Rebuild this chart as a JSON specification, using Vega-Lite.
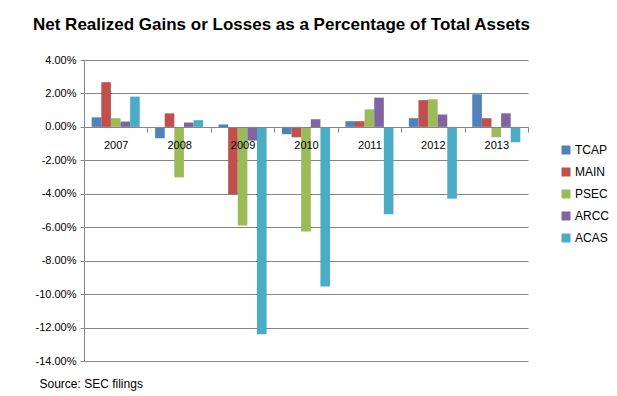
{
  "$schema": "https://vega.github.io/schema/vega-lite/v6.json",
  "width": 444,
  "height": 301,
  "autosize": {"type": "none"},
  "padding": {"left": 84, "top": 60, "right": 89, "bottom": 35},
  "background": "white",
  "title": {
    "text": "Net Realized Gains or Losses as a Percentage of Total Assets",
    "anchor": "start",
    "frame": "group",
    "dx": -51,
    "offset": 7,
    "baseline": "alphabetic",
    "font": "Liberation Sans",
    "fontSize": 17,
    "fontWeight": "bold",
    "color": "#000000"
  },
  "config": {
    "view": {"stroke": null},
    "font": "Liberation Sans"
  },
  "data": {
    "values": [
      {"year": "2007", "company": "TCAP", "value": 0.57},
      {"year": "2007", "company": "MAIN", "value": 2.67},
      {"year": "2007", "company": "PSEC", "value": 0.52},
      {"year": "2007", "company": "ARCC", "value": 0.32},
      {"year": "2007", "company": "ACAS", "value": 1.81},
      {"year": "2008", "company": "TCAP", "value": -0.68},
      {"year": "2008", "company": "MAIN", "value": 0.81},
      {"year": "2008", "company": "PSEC", "value": -3.02},
      {"year": "2008", "company": "ARCC", "value": 0.26},
      {"year": "2008", "company": "ACAS", "value": 0.40},
      {"year": "2009", "company": "TCAP", "value": 0.14},
      {"year": "2009", "company": "MAIN", "value": -4.01},
      {"year": "2009", "company": "PSEC", "value": -5.89},
      {"year": "2009", "company": "ARCC", "value": -0.82},
      {"year": "2009", "company": "ACAS", "value": -12.4},
      {"year": "2010", "company": "TCAP", "value": -0.44},
      {"year": "2010", "company": "MAIN", "value": -0.62},
      {"year": "2010", "company": "PSEC", "value": -6.25},
      {"year": "2010", "company": "ARCC", "value": 0.46},
      {"year": "2010", "company": "ACAS", "value": -9.54},
      {"year": "2011", "company": "TCAP", "value": 0.34},
      {"year": "2011", "company": "MAIN", "value": 0.34},
      {"year": "2011", "company": "PSEC", "value": 1.05},
      {"year": "2011", "company": "ARCC", "value": 1.75},
      {"year": "2011", "company": "ACAS", "value": -5.23},
      {"year": "2012", "company": "TCAP", "value": 0.52},
      {"year": "2012", "company": "MAIN", "value": 1.60},
      {"year": "2012", "company": "PSEC", "value": 1.65},
      {"year": "2012", "company": "ARCC", "value": 0.74},
      {"year": "2012", "company": "ACAS", "value": -4.29},
      {"year": "2013", "company": "TCAP", "value": 1.95},
      {"year": "2013", "company": "MAIN", "value": 0.52},
      {"year": "2013", "company": "PSEC", "value": -0.62},
      {"year": "2013", "company": "ARCC", "value": 0.81},
      {"year": "2013", "company": "ACAS", "value": -0.92}
    ]
  },
  "mark": {"type": "bar"},
  "encoding": {
    "x": {
      "field": "year",
      "type": "nominal",
      "scale": {"paddingInner": 0, "paddingOuter": 0},
      "axis": {
        "title": null,
        "orient": "bottom",
        "offset": -234,
        "zindex": 1,
        "tickBand": "extent",
        "tickSize": 5,
        "tickColor": "#868686",
        "domainColor": "#868686",
        "labelPadding": 7,
        "labelAngle": 0,
        "labelFontSize": 11,
        "labelColor": "#000000",
        "grid": false
      }
    },
    "xOffset": {
      "field": "company",
      "type": "nominal",
      "sort": ["TCAP", "MAIN", "PSEC", "ARCC", "ACAS"],
      "scale": {"paddingInner": 0, "paddingOuter": 0.8}
    },
    "y": {
      "field": "value",
      "type": "quantitative",
      "scale": {"domain": [-14, 4], "nice": false, "zero": false},
      "axis": {
        "values": [-14, -12, -10, -8, -6, -4, -2, 0, 2, 4],
        "labelExpr": "replace(format(datum.value, '.2f'), '\u2212', '-') + '%'",
        "grid": true,
        "gridColor": "#868686",
        "gridWidth": 1,
        "domainColor": "#868686",
        "tickColor": "#868686",
        "tickSize": 4,
        "labelPadding": 4,
        "labelFontSize": 11,
        "labelColor": "#000000",
        "title": "Source: SEC filings",
        "titleAngle": 0,
        "titleAlign": "left",
        "titleBaseline": "middle",
        "titleX": -45,
        "titleY": 323,
        "titleFontSize": 12,
        "titleFontWeight": "normal",
        "titleColor": "#000000"
      }
    },
    "color": {
      "field": "company",
      "type": "nominal",
      "sort": ["TCAP", "MAIN", "PSEC", "ARCC", "ACAS"],
      "scale": {
        "domain": ["TCAP", "MAIN", "PSEC", "ARCC", "ACAS"],
        "range": ["#4F81BD", "#C0504D", "#9BBB59", "#8064A2", "#4BACC6"]
      },
      "legend": {
        "title": null,
        "orient": "none",
        "legendX": 476,
        "legendY": 84,
        "symbolType": "square",
        "symbolSize": 81,
        "symbolStrokeWidth": 0,
        "rowPadding": 10,
        "labelFontSize": 12,
        "labelColor": "#000000",
        "labelOffset": 3
      }
    }
  }
}
